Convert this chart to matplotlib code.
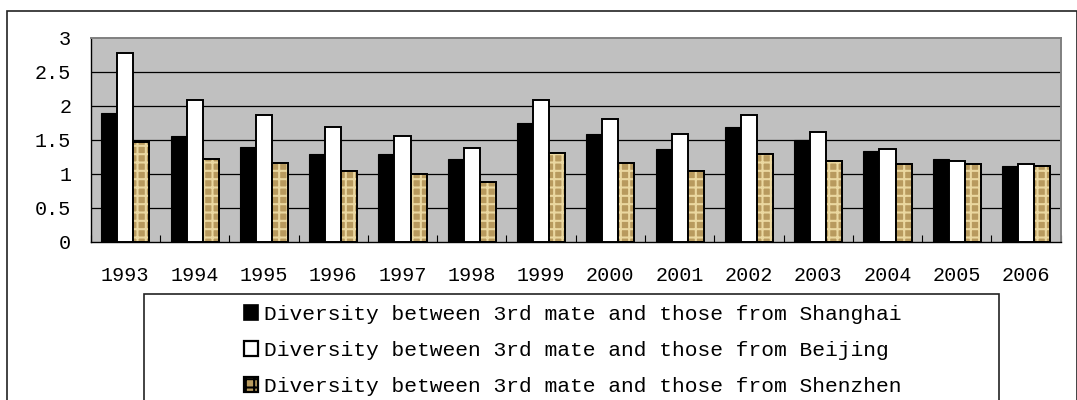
import matplotlib
matplotlib.use('Agg')
import matplotlib.pyplot as plt
import numpy as np
from matplotlib.patches import Rectangle, Patch

years = ['1993', '1994', '1995', '1996', '1997', '1998', '1999',
         '2000', '2001', '2002', '2003', '2004', '2005', '2006']
shanghai = [1.89, 1.56, 1.39, 1.29, 1.29, 1.22, 1.74,
            1.59, 1.37, 1.69, 1.50, 1.34, 1.22, 1.12]
beijing = [2.78, 2.08, 1.86, 1.69, 1.56, 1.38, 2.08,
           1.81, 1.58, 1.86, 1.61, 1.36, 1.19, 1.14]
shenzhen = [1.46, 1.21, 1.16, 1.04, 0.99, 0.88, 1.31,
            1.16, 1.04, 1.29, 1.19, 1.14, 1.14, 1.11]
labels = ['Diversity between 3rd mate and those from Shanghai',
          'Diversity between 3rd mate and those from Beijing',
          'Diversity between 3rd mate and those from Shenzhen']
yticks = [0, 0.5, 1, 1.5, 2, 2.5, 3]
ytick_labels = ['0', '0.5', '1', '1.5', '2', '2.5', '3']

plt.rcParams['font.family'] = ['Liberation Mono', 'DejaVu Sans Mono']
plt.rcParams['hatch.linewidth'] = 1.5

W, H = 1077, 400
fig = plt.figure(figsize=(W / 100, H / 100), dpi=100)
ax = fig.add_axes([90.7 / W, 1 - 241.7 / H, 970 / W, 204 / H])

# outer chart border
fig.patches.append(Rectangle((6.5 / W, -0.05), (1076.5 - 6.5) / W, 1.05 - 10.7 / H,
                             transform=fig.transFigure, fill=False,
                             edgecolor='#222222', lw=1.2, zorder=0))

ax.set_facecolor('#c0c0c0')
x = np.arange(len(years))
bw = 0.232
tan = '#b89a5e'

for v in yticks[1:-1]:
    ax.axhline(v, color='black', lw=0.9, zorder=1)

ax.bar(x - bw, shanghai, bw, color='black', edgecolor='black', lw=0.8, zorder=3)
ax.bar(x, beijing, bw, color='white', edgecolor='black', lw=1.4, zorder=3)
ax.bar(x + bw, shenzhen, bw, color=tan, edgecolor='black', lw=1.4, zorder=3)
# woven texture on the Shenzhen bars
ax.bar(x + bw, shenzhen, bw, fill=False, edgecolor='#ead7a0', lw=0,
       hatch='++', zorder=3.5)
ax.bar(x + bw, shenzhen, bw, fill=False, edgecolor='black', lw=1.4, zorder=4)

ax.set_xlim(-0.5, len(years) - 0.5)
ax.set_ylim(0, 3)
ax.set_yticks(yticks)
ax.set_yticklabels(ytick_labels)
ax.set_xticks(x)
ax.set_xticklabels(years)
ax.set_xticks(np.arange(len(years) + 1) - 0.5, minor=True)
ax.tick_params(axis='x', which='major', length=0, pad=17.5, labelsize=14.5)
ax.tick_params(axis='x', which='minor', direction='in', length=5, width=0.8)
ax.tick_params(axis='y', length=0, pad=14, labelsize=14.5)

for s in ['top', 'right']:
    ax.spines[s].set_color('#808080')
    ax.spines[s].set_linewidth(1.4)
for s in ['left', 'bottom']:
    ax.spines[s].set_color('black')
    ax.spines[s].set_linewidth(1.0)

# legend box and entries
fig.patches.append(Rectangle((144 / W, -0.05), (999 - 144) / W, 1.05 - 294 / H,
                             transform=fig.transFigure, fill=False,
                             edgecolor='#222222', lw=1.2, zorder=0))
handles = [Patch(facecolor='black', edgecolor='black', lw=1.2),
           Patch(facecolor='white', edgecolor='black', lw=1.6),
           Patch(facecolor=tan, edgecolor='black', lw=1.6, hatch='++')]
fig.legend(handles, labels, loc='upper left',
           bbox_to_anchor=(244 / W, 1 - 305 / H), bbox_transform=fig.transFigure,
           frameon=False, borderpad=0, borderaxespad=0, fontsize=15.35,
           handlelength=0.66, handleheight=0.66, handletextpad=0.3,
           labelspacing=0.8)

fig.savefig('out.png', dpi=100)
